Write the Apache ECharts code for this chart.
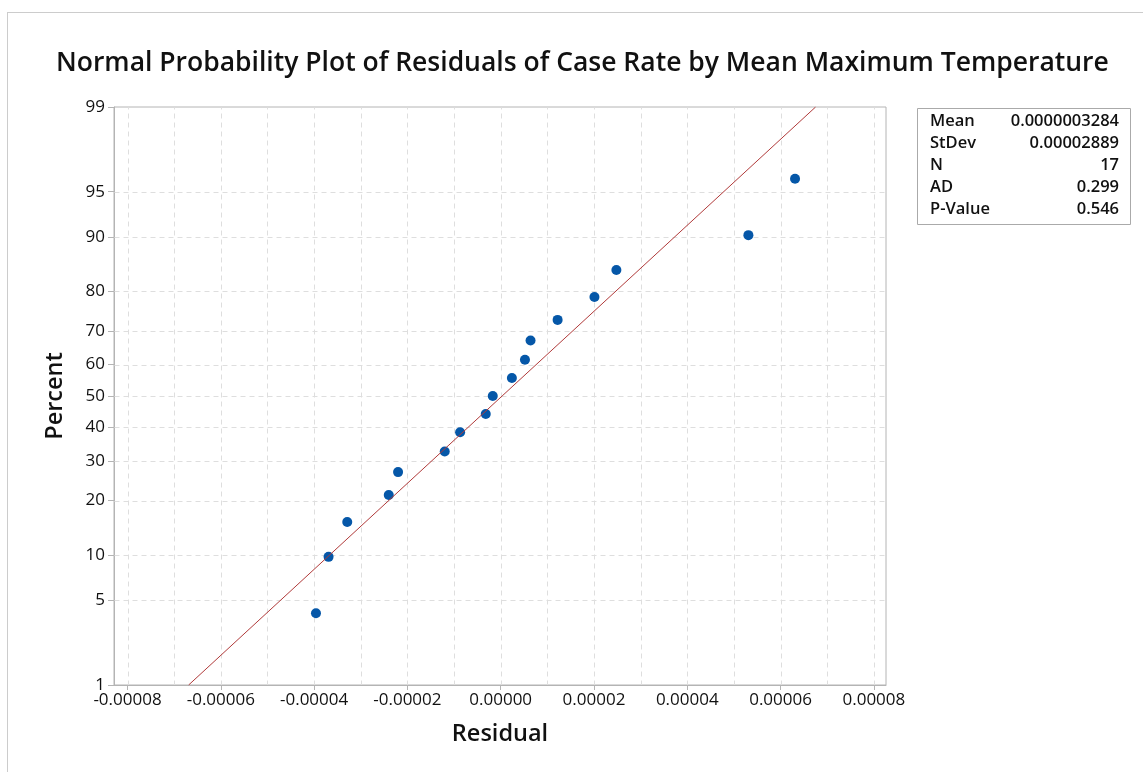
<!DOCTYPE html>
<html>
<head>
<meta charset="utf-8">
<script src="https://cdn.jsdelivr.net/npm/echarts@6/dist/echarts.min.js"></script>
<style>
  html, body { margin: 0; padding: 0; background: #ffffff; }
  #chart { width: 1143px; height: 772px; }
</style>
</head>
<body>
<div id="chart"></div>
<script>
// residuals, with their percent (median rank) positions
var residuals = [-0.0000396, -0.0000369, -0.0000329, -0.0000240, -0.0000220, -0.0000120, -0.0000087,
  -0.0000032, -0.0000017, 0.0000024, 0.0000052, 0.0000064, 0.0000122, 0.0000201, 0.0000248,
  0.0000531, 0.0000631];
var percents = [4.02, 9.77, 15.52, 21.26, 27.01, 32.76, 38.51, 44.25, 50.00, 55.75, 61.49,
  67.24, 72.99, 78.74, 84.48, 90.23, 95.98];

// fitted normal line end points (residual at 1% and 99%)
var fitResidual = [-0.0000669, 0.0000675];
var fitPercent = [1, 99];

var percentTicks = [1, 5, 10, 20, 30, 40, 50, 60, 70, 80, 90, 95, 99];
var percentGrid = [5, 10, 20, 30, 40, 50, 60, 70, 80, 90, 95];
var residualTicks = [-0.00008, -0.00006, -0.00004, -0.00002, 0, 0.00002, 0.00004, 0.00006, 0.00008];
var residualGrid = [-0.00008, -0.00007, -0.00006, -0.00005, -0.00004, -0.00003, -0.00002, -0.00001, 0,
  0.00001, 0.00002, 0.00003, 0.00004, 0.00005, 0.00006, 0.00007, 0.00008];

var statNames = ['Mean', 'StDev', 'N', 'AD', 'P-Value'];
var statValues = ['0.0000003284', '0.00002889', '17', '0.299', '0.546'];

// inverse normal cdf (Acklam) - percent to probit scale
function probit(pct) {
  var p = pct / 100;
  var a = [-3.969683028665376e+01, 2.209460984245205e+02, -2.759285104469687e+02, 1.383577518672690e+02, -3.066479806614716e+01, 2.506628277459239e+00];
  var b = [-5.447609879822406e+01, 1.615858368580409e+02, -1.556989798598866e+02, 6.680131188771972e+01, -1.328068155288572e+01];
  var c = [-7.784894002430293e-03, -3.223964580411365e-01, -2.400758277161838e+00, -2.549732539343734e+00, 4.374664141464968e+00, 2.938163982698783e+00];
  var d = [7.784695709041462e-03, 3.224671290700398e-01, 2.445134137142996e+00, 3.754408661907416e+00];
  var pl = 0.02425, q, r;
  if (p < pl) {
    q = Math.sqrt(-2 * Math.log(p));
    return (((((c[0]*q+c[1])*q+c[2])*q+c[3])*q+c[4])*q+c[5]) / ((((d[0]*q+d[1])*q+d[2])*q+d[3])*q+1);
  }
  if (p > 1 - pl) {
    q = Math.sqrt(-2 * Math.log(1 - p));
    return -(((((c[0]*q+c[1])*q+c[2])*q+c[3])*q+c[4])*q+c[5]) / ((((d[0]*q+d[1])*q+d[2])*q+d[3])*q+1);
  }
  q = p - 0.5; r = q * q;
  return (((((a[0]*r+a[1])*r+a[2])*r+a[3])*r+a[4])*r+a[5])*q / (((((b[0]*r+b[1])*r+b[2])*r+b[3])*r+b[4])*r+1);
}

var zTicks = percentTicks.map(probit);
var zMin = probit(1), zMax = probit(99);
var xMin = -0.0000829, xMax = 0.0000826;

var points = residuals.map(function (v, i) { return [v, probit(percents[i])]; });
var fitLine = fitResidual.map(function (v, i) { return [v, probit(fitPercent[i])]; });

// grid lines: [kind, value]  (0 = vertical at residual, 1 = horizontal at percent)
var gridData = residualGrid.map(function (v) { return [0, v]; })
  .concat(percentGrid.map(function (p) { return [1, probit(p)]; }));

var font = '"Open Sans", "Noto Sans", sans-serif';

var myChart = echarts.init(document.getElementById('chart'));

var graphics = [
  { type: 'line', shape: { x1: 7, y1: 12.5, x2: 1143, y2: 12.5 }, style: { stroke: '#cccccc', lineWidth: 1 } },
  { type: 'line', shape: { x1: 7.5, y1: 12, x2: 7.5, y2: 772 }, style: { stroke: '#cccccc', lineWidth: 1 } },
  { type: 'rect', shape: { x: 917.5, y: 108.5, width: 213, height: 116 }, style: { fill: '#fff', stroke: '#aaaaaa', lineWidth: 1 } }
];
statNames.forEach(function (n, i) {
  graphics.push({ type: 'text', left: 930, top: 113 + i * 21.9,
    style: { text: n, fontFamily: font, fontSize: 16.5, fontWeight: 600, fill: '#111' } });
  graphics.push({ type: 'text', right: 1143 - 1119, top: 113 + i * 21.9,
    style: { text: statValues[i], fontFamily: font, fontSize: 16.5, fontWeight: 600, fill: '#111', align: 'right' } });
});

myChart.setOption({
  backgroundColor: '#ffffff',
  animation: false,
  title: {
    text: 'Normal Probability Plot of Residuals of Case Rate by Mean Maximum Temperature',
    left: 51,
    top: 45,
    textStyle: { fontFamily: font, fontSize: 26.5, fontWeight: 600, color: '#111' }
  },
  grid: {
    left: 114, top: 107, right: 257, bottom: 87,
    show: true, borderColor: '#b4b4b4', borderWidth: 1, backgroundColor: '#fff'
  },
  xAxis: {
    type: 'value',
    min: xMin,
    max: xMax,
    name: 'Residual',
    nameLocation: 'middle',
    nameGap: 37,
    nameTextStyle: { fontFamily: font, fontSize: 23.5, fontWeight: 600, color: '#111' },
    axisLine: { show: true, onZero: false, lineStyle: { color: '#b4b4b4' } },
    axisTick: { show: true, customValues: residualTicks, length: 5, lineStyle: { color: '#b4b4b4' } },
    axisLabel: {
      customValues: residualTicks,
      fontFamily: font, fontSize: 17, color: '#111', margin: 7,
      formatter: function (v) { return Math.abs(v) < 1e-12 ? '0.00000' : v.toFixed(5); }
    },
    splitLine: { show: false }
  },
  yAxis: {
    type: 'value',
    min: zMin,
    max: zMax,
    name: 'Percent',
    nameLocation: 'middle',
    nameGap: 47,
    nameTextStyle: { fontFamily: font, fontSize: 23.5, fontWeight: 600, color: '#111' },
    axisLine: { show: true, onZero: false, lineStyle: { color: '#b4b4b4' } },
    axisTick: { show: true, customValues: zTicks, length: 6, lineStyle: { color: '#b4b4b4' } },
    axisLabel: {
      customValues: zTicks,
      fontFamily: font, fontSize: 17, color: '#111', margin: 9,
      formatter: function (v) {
        var best = 0;
        zTicks.forEach(function (z, i) { if (Math.abs(z - v) < Math.abs(zTicks[best] - v)) best = i; });
        return String(percentTicks[best]);
      }
    },
    splitLine: { show: false }
  },
  graphic: graphics,
  series: [
    {
      name: 'grid',
      type: 'custom',
      silent: true,
      clip: true,
      data: gridData,
      encode: { x: -1, y: -1 },
      renderItem: function (params, api) {
        var kind = api.value(0), v = api.value(1);
        var p1, p2;
        if (kind === 0) { p1 = api.coord([v, zMin]); p2 = api.coord([v, zMax]); }
        else { p1 = api.coord([xMin, v]); p2 = api.coord([xMax, v]); }
        return {
          type: 'line',
          shape: { x1: Math.round(p1[0]) + 0.5, y1: Math.round(p1[1]) + 0.5, x2: Math.round(p2[0]) + 0.5, y2: Math.round(p2[1]) + 0.5 },
          style: { stroke: '#dedede', lineWidth: 1, lineDash: [5, 4] }
        };
      }
    },
    {
      name: 'Fit',
      type: 'line',
      data: fitLine,
      symbol: 'none',
      lineStyle: { color: '#b03a3a', width: 1 },
      silent: true
    },
    {
      name: 'Residual',
      type: 'scatter',
      data: points,
      symbolSize: 10,
      itemStyle: { color: '#0557a8', opacity: 1 }
    }
  ]
});
</script>
</body>
</html>
